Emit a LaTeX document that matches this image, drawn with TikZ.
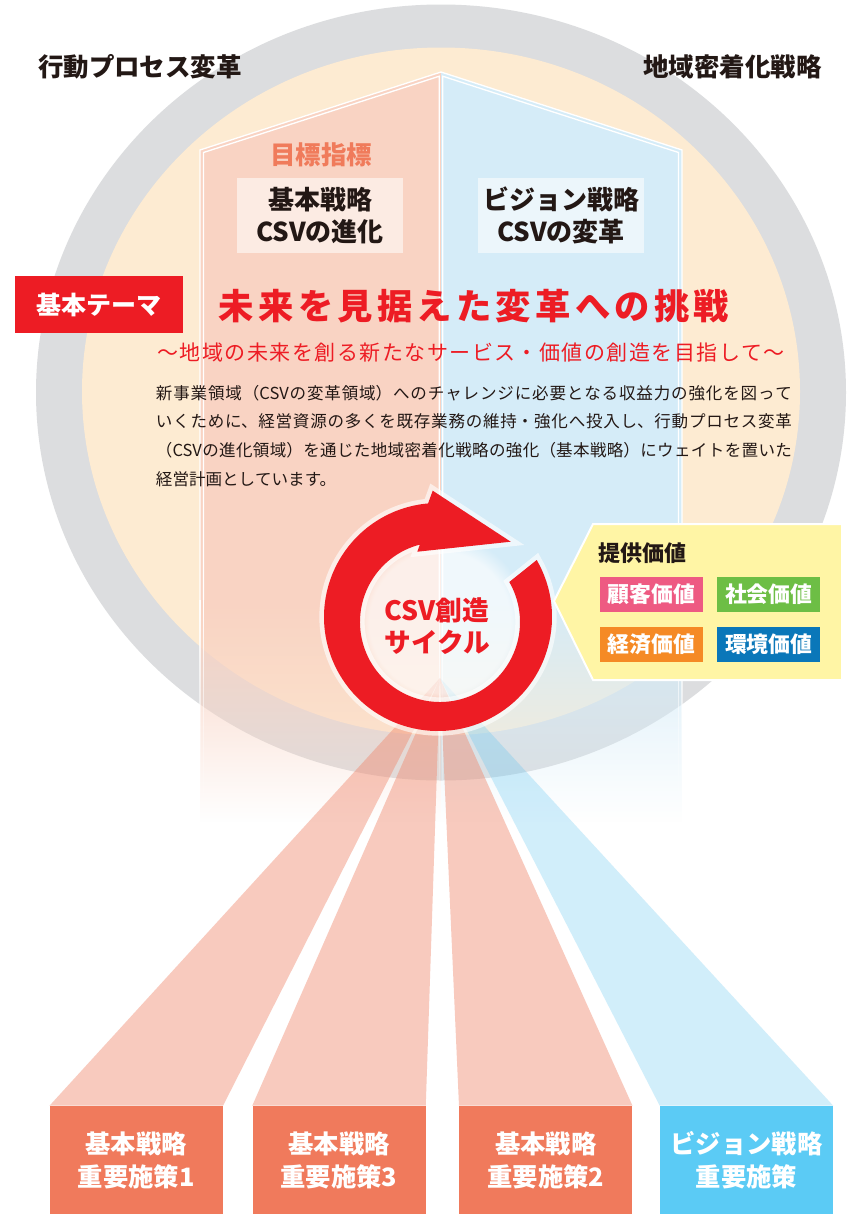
\documentclass[tikz,border=0pt]{standalone}
\usepackage{fontspec}
\setmainfont{Noto Sans CJK JP}
\usepackage{xcolor}
\usepackage{tikz}
\usetikzlibrary{positioning}
\usetikzlibrary{fadings}

\definecolor{ringgray}{HTML}{DCDDDF}
\definecolor{cream}{HTML}{FDEBD2}
\definecolor{housered}{HTML}{F9D3C3}
\definecolor{houseblue}{HTML}{D5ECF8}
\definecolor{csvred}{HTML}{ED1C24}
\definecolor{inkblack}{HTML}{231815}
\definecolor{targetorange}{HTML}{F07B5B}
\definecolor{beamred}{HTML}{F08A70}
\definecolor{beamblue}{HTML}{5BC3F0}
\definecolor{boxred}{HTML}{F07A5C}
\definecolor{boxblue}{HTML}{5BCBF5}
\definecolor{calloutyellow}{HTML}{FFF5A5}
\definecolor{valuepink}{HTML}{EE5A82}
\definecolor{valuegreen}{HTML}{6DBE45}
\definecolor{valueorange}{HTML}{F58A25}
\definecolor{valueblue}{HTML}{0A77B9}

\tikzfading[name=housefade, top color=transparent!0, middle color=transparent!65, bottom color=transparent!100]

\newcommand\jabreak{\XeTeXlinebreaklocale "ja"\XeTeXlinebreakskip=0pt plus 3pt minus 0.4pt\relax}

\tikzset{
  top label/.style={font=\bfseries\fontsize{19.1}{22}\selectfont, text=inkblack, inner sep=0pt},
  target label/.style={font=\bfseries\fontsize{19.1}{22}\selectfont, text=targetorange, inner sep=0pt},
  goal box/.style={fill=white, fill opacity=0.55, text opacity=1, text=inkblack, align=center,
    minimum width=124.5pt, minimum height=56.25pt, inner sep=0pt, font=\bfseries\fontsize{19.5}{24}\selectfont},
  theme box/.style={fill=csvred, text=white, minimum width=126pt, minimum height=42.75pt,
    inner sep=0pt, font=\bfseries\fontsize{18.75}{22}\selectfont},
  value box/.style={fill=#1, text=white, minimum width=77.25pt, minimum height=26.25pt,
    inner sep=0pt, font=\bfseries\fontsize{16.4}{20}\selectfont},
  measure box/.style={fill=#1, text=white, align=center, minimum width=129.75pt, minimum height=81pt,
    inner sep=0pt, font=\bfseries\fontsize{19}{24.75}\selectfont},
  beam/.style={fill=#1, fill opacity=0.45},
  house line/.style={draw=white, line width=1pt},
  ring glow/.style={preaction={draw=white, line width=7pt, opacity=0.6}},
}

\begin{document}
\begin{tikzpicture}[x=0.75pt, y=-0.75pt]

  \fill[white] (0,0) rectangle (858,1214);
  \useasboundingbox (0,0) rectangle (858,1214);

  % Circles
  \fill[ringgray] (441,392.5) ellipse [x radius=405, y radius=388];
  \fill[cream] (441,391.5) ellipse [x radius=359, y radius=344];

  % House
  \fill[housered] (200,600) -- (200,150) -- (441,72) -- (441,600) -- cycle;
  \fill[houseblue] (441,600) -- (441,72) -- (682,150) -- (682,600) -- cycle;
  \fill[housered, path fading=housefade] (200,600) rectangle (441,822);
  \fill[houseblue, path fading=housefade] (441,600) rectangle (682,822);
  \draw[house line] (200,600) -- (200,150) -- (441,72) -- (682,150) -- (682,600);
  \draw[house line] (203.5,600) -- (203.5,152.5) -- (439.3,76.2) -- (439.3,600);
  \draw[house line] (678.5,600) -- (678.5,152.5) -- (442.7,76.2) -- (442.7,600);
  \draw[house line, path fading=housefade] (200,600) -- (200,822) (203.5,600) -- (203.5,822)
    (439.3,600) -- (439.3,822) (442.7,600) -- (442.7,822)
    (678.5,600) -- (678.5,822) (682,600) -- (682,822);

  % Measures and beams
  \coordinate (beam_apex) at (440,678);
  \node[measure box=boxred] (m_basic1) at (136.25,1160) {基本戦略\\重要施策1};
  \node[measure box=boxred] (m_basic3) at (339,1160) {基本戦略\\重要施策3};
  \node[measure box=boxred] (m_basic2) at (545.75,1160) {基本戦略\\重要施策2};
  \node[measure box=boxblue] (m_vision) at (746.5,1160) {ビジョン戦略\\重要施策};

  \fill[beam=beamred] (beam_apex) -- (m_basic1.north west) -- (m_basic1.north east) -- cycle;
  \fill[beam=beamred] (beam_apex) -- (m_basic3.north west) -- (m_basic3.north east) -- cycle;
  \fill[beam=beamred] (beam_apex) -- (m_basic2.north west) -- (m_basic2.north east) -- cycle;
  \fill[beam=beamblue, fill opacity=0.28] (beam_apex) -- (m_vision.north west) -- (m_vision.north east) -- cycle;

  % Labels
  \node[top label] (label_process) at (140,67) {行動プロセス変革};
  \node[top label] (label_region) at (732.5,67) {地域密着化戦略};
  \node[target label] (target) at (321,155) {目標指標};
  \node[goal box] (goal_basic) at (320,215.5) {基本戦略\\CSVの進化};
  \node[goal box] (goal_vision) at (561,215.5) {ビジョン戦略\\CSVの変革};

  \node[theme box] (theme) at (99,304.5) {基本テーマ};
  \node[font={\bfseries\fontsize{26.5}{30}\selectfont\addfontfeature{LetterSpace=12}}, text=csvred, inner sep=0pt]
    (title) at (474,306.5) {未来を見据えた変革への挑戦};
  \node[font={\fontsize{15.75}{18}\selectfont\addfontfeature{LetterSpace=7}}, text=csvred, inner sep=0pt]
    (subtitle) at (471,353) {〜地域の未来を創る新たなサービス・価値の創造を目指して〜};
  \node[anchor=base west, text width=477pt, align=justify, inner sep=0pt, text=inkblack,
    font=\fontsize{12.4}{21.6}\selectfont] (body) at (155.7,399)
    {\jabreak 新事業領域（CSVの変革領域）へのチャレンジに必要となる収益力の強化を図って\linebreak
     いくために、経営資源の多くを既存業務の維持・強化へ投入し、行動プロセス変革\linebreak
     （CSVの進化領域）を通じた地域密着化戦略の強化（基本戦略）にウェイトを置いた\linebreak
     経営計画としています。};

  % CSV cycle
  \coordinate (ring_out) at (438,617);
  \coordinate (ring_in) at (440,622);
  \fill[white, opacity=0.65, path fading=circle with fuzzy edge 20 percent] (ring_in) circle [radius=88];
  \fill[csvred, ring glow] ([shift={(-30:114)}]ring_out) arc [start angle=-30, end angle=265, radius=114]
    -- (432.7,490.7) -- (510.7,541.7) -- (417.3,551.7)
    -- ([shift={(255.4:80)}]ring_in) arc [start angle=255.4, end angle=-30, radius=80] -- cycle;
  \node[font=\bfseries\fontsize{20}{24}\selectfont, text=csvred, align=center, inner sep=0pt]
    (cycle_label) at (437,626) {CSV創造\\サイクル};

  % Values
  \fill[calloutyellow, draw=white, line width=1.5pt] (554,601) -- (593,524) -- (842,524) -- (842,680) -- (593,680) -- cycle;
  \node[anchor=west, font=\bfseries\fontsize{16.5}{20}\selectfont, text=inkblack, inner sep=0pt]
    (value_title) at (598.6,553) {提供価値};
  \node[value box=valuepink] (v_customer) at (651.5,594.5) {顧客価値};
  \node[value box=valuegreen, right=10.3pt of v_customer] (v_society) {社会価値};
  \node[value box=valueorange, below=10.5pt of v_customer] (v_economy) {経済価値};
  \node[value box=valueblue, below=10.5pt of v_society] (v_environment) {環境価値};

\end{tikzpicture}
\end{document}
